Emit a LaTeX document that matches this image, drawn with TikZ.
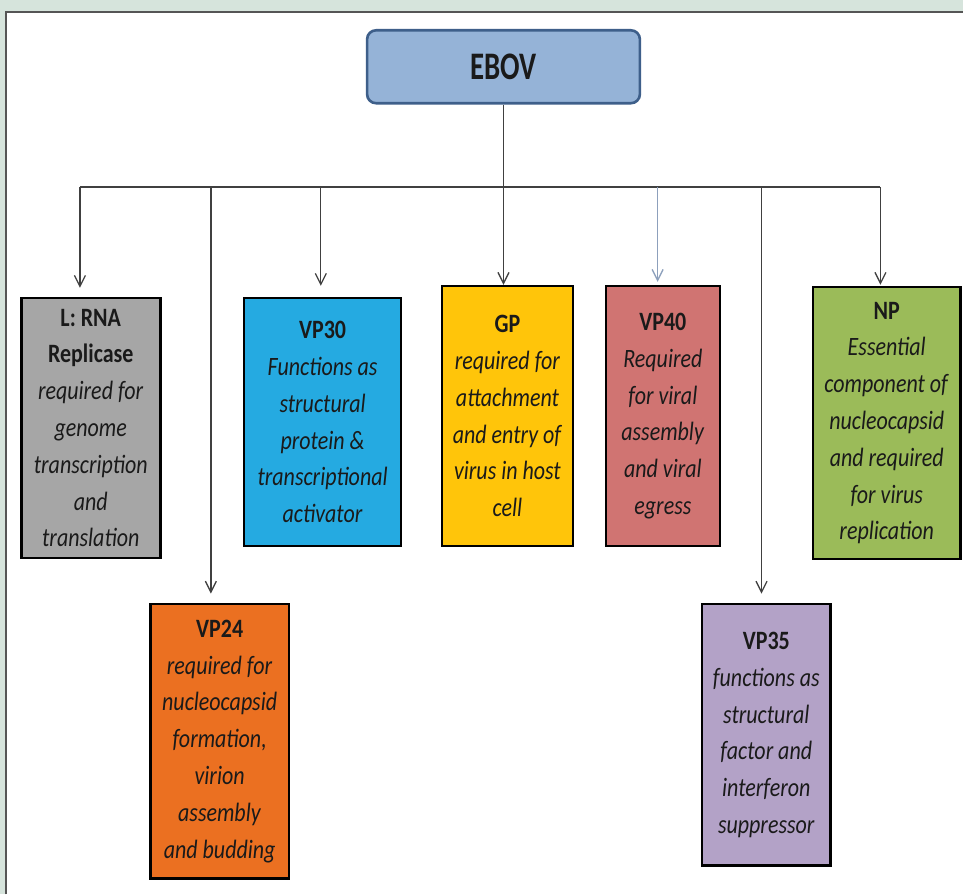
\documentclass[tikz,border=0pt]{standalone}
\usepackage{fontspec}
\setmainfont{Carlito}[FakeStretch=0.83]
\newfontfamily\eboffont{Carlito}[FakeStretch=0.74]
\usetikzlibrary{arrows.meta}
\definecolor{bgc}{HTML}{D6E4DC}
\definecolor{panelc}{HTML}{555555}
\definecolor{ebovfill}{HTML}{95B3D7}
\definecolor{ebovdraw}{HTML}{3E5F8A}
\definecolor{lfill}{HTML}{A6A6A6}
\definecolor{vpthirty}{HTML}{25AAE1}
\definecolor{gpfill}{HTML}{FFC50A}
\definecolor{vpforty}{HTML}{D07472}
\definecolor{npfill}{HTML}{9BBB59}
\definecolor{vptwentyfour}{HTML}{EB7021}
\definecolor{vpthirtyfive}{HTML}{B3A2C7}
\definecolor{linec}{HTML}{404040}
\definecolor{lightlinec}{HTML}{8DA0BC}
\definecolor{textc}{HTML}{1A1A1A}
\begin{document}
\begin{tikzpicture}[x=1pt,y=-1pt,
  box/.style={draw=black, line width=2.6pt, inner sep=0pt, align=center,
    anchor=north west, text=textc, font=\fontsize{26.5}{36.8}\selectfont},
  conn/.style={draw=linec, line width=1.3pt},
  arr/.style={conn, -{Straight Barb[length=11pt,width=11pt,line width=1.3pt]}},
  rootbox/.style={draw=ebovdraw, fill=ebovfill, line width=2.6pt, rounded corners=9pt,
    anchor=north west, minimum width=273pt, minimum height=73pt, inner sep=0pt,
    text=textc, font=\eboffont\fontsize{39}{42}\selectfont\bfseries}]
\fill[bgc] (0,0) rectangle (964,895);
\fill[white] (6,12) rectangle (964,895);
\draw[panelc, line width=1.2pt] (6,895) -- (6,12) -- (964,12);
\useasboundingbox (0,0) rectangle (964,895);

\node[rootbox] (ebov) at (366,29) {EBOV};

\node[box, fill=lfill, minimum width=139pt, minimum height=260pt] (L) at (20,297)
  {\textbf{L: RNA}\\\textbf{Replicase}\\\textit{required for}\\\textit{genome}\\\textit{transcription}\\\textit{and}\\\textit{translation}};
\node[box, fill=vpthirty, minimum width=157pt, minimum height=248pt] (VP30) at (243,297)
  {\textbf{VP30}\\\textit{Functions as}\\\textit{structural}\\\textit{protein \&}\\\textit{transcriptional}\\\textit{activator}};
\node[box, fill=gpfill, minimum width=131pt, minimum height=260pt] (GP) at (441,285)
  {\textbf{GP}\\\textit{required for}\\\textit{attachment}\\\textit{and entry of}\\\textit{virus in host}\\\textit{cell}};
\node[box, fill=vpforty, minimum width=114pt, minimum height=260pt] (VP40) at (605,285)
  {\textbf{VP40}\\\textit{Required}\\\textit{for viral}\\\textit{assembly}\\\textit{and viral}\\\textit{egress}};
\node[box, fill=npfill, minimum width=148pt, minimum height=272pt] (NP) at (812,286)
  {\textbf{NP}\\\textit{Essential}\\\textit{component of}\\\textit{nucleocapsid}\\\textit{and required}\\\textit{for virus}\\\textit{replication}};
\node[box, fill=vptwentyfour, minimum width=139pt, minimum height=275pt] (VP24) at (149,603)
  {\textbf{VP24}\\\textit{required for}\\\textit{nucleocapsid}\\\textit{formation,}\\\textit{virion}\\\textit{assembly}\\\textit{and budding}};
\node[box, fill=vpthirtyfive, minimum width=129pt, minimum height=262pt] (VP35) at (701,603)
  {\textbf{VP35}\\\textit{functions as}\\\textit{structural}\\\textit{factor and}\\\textit{interferon}\\\textit{suppressor}};

\coordinate (tL) at (80,187);
\coordinate (tVP24) at (211,187);
\coordinate (tVP30) at (321,187);
\coordinate (tVP40) at (658,187);
\coordinate (tVP35) at (762,187);
\coordinate (tNP) at (881,187);

\draw[conn] (tL) -- (tNP);
\draw[arr] (ebov.south) -- (ebov.south |- GP.north);
\draw[arr, shorten >=9pt] (tL) -- (tL |- L.north);
\draw[arr, shorten >=9pt] (tVP24) -- (tVP24 |- VP24.north);
\draw[arr, shorten >=11pt] (tVP30) -- (tVP30 |- VP30.north);
\draw[arr, draw=lightlinec, shorten >=3pt] (tVP40) -- (tVP40 |- VP40.north);
\draw[arr, shorten >=9pt] (tVP35) -- (tVP35 |- VP35.north);
\draw[arr, shorten >=1pt] (tNP) -- (tNP |- NP.north);
\end{tikzpicture}
\end{document}
